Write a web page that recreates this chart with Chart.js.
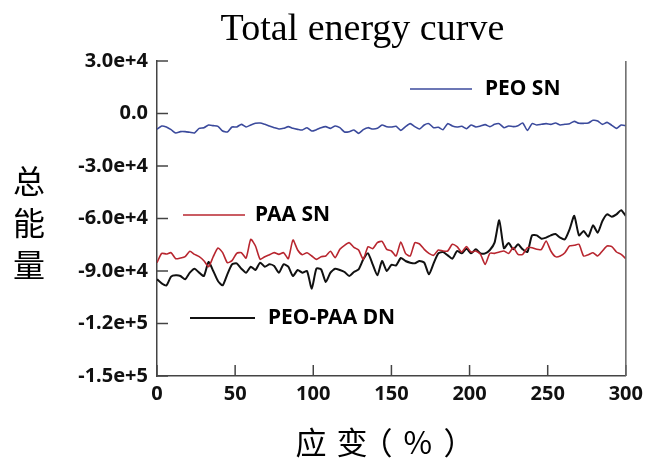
<!DOCTYPE html>
<html>
<head>
<meta charset="utf-8">
<script src="https://cdn.jsdelivr.net/npm/chart.js@4/dist/chart.umd.min.js"></script>
<style>
  html, body { margin: 0; padding: 0; background: #fff; }
  canvas { display: block; }
</style>
</head>
<body>
<canvas id="energyChart" width="649" height="458"></canvas>
<script>
// strain (%) sampled every 3 units
const strain = [];
for (let s = 0; s <= 300; s += 3) strain.push(s);

const peoSN = [
  -9050, -7140, -7710, -9240, -11140, -10380, -10380, -10760, -11140, -8480,
  -8100, -6570, -6950, -7330, -10000, -10570, -7710, -7710, -6190, -7710,
  -6570, -5620, -5430, -6190, -7140, -8100, -8860, -8480, -7520, -8480,
  -9050, -9430, -8100, -10000, -9240, -8100, -7520, -8480, -7140, -8100,
  -10570, -10380, -9430, -11330, -9240, -8100, -8860, -8480, -6570, -7520,
  -7710, -7330, -9620, -7520, -5810, -7520, -8860, -6570, -5810, -8100,
  -7910, -9240, -5810, -7140, -7710, -7330, -8670, -6570, -7710, -7140,
  -6380, -7520, -6190, -5810, -8100, -7140, -7520, -6950, -5430, -9620,
  -5810, -6570, -6190, -5810, -6190, -5430, -6570, -6190, -5810, -4480,
  -5620, -5620, -5430, -3910, -4290, -6190, -5050, -6760, -8480, -6570,
  -6950
];

const paaSN = [
  -85240, -79900, -80290, -79530, -82960, -82570, -81810, -78760, -80480, -81810,
  -84100, -87530, -81810, -76860, -79530, -85240, -84100, -79900, -79530, -82570,
  -71900, -75710, -83340, -81810, -80670,
  -79500, -80480, -79530, -82960, -72290, -78000, -80670, -79530, -81430, -83340,
  -81810, -81430, -78760, -82380, -77620, -75330, -73810, -76480, -78000, -83340,
  -76100, -77240, -73810, -73050, -77620,
  -78570, -81430, -73430, -79910, -81430, -73810, -74570, -77620, -79910, -81050,
  -78000, -78570, -78570, -74760, -76100, -79140, -76100, -79140, -78570, -80480,
  -86190, -79910, -79910, -79140, -78570,
  -80000, -76670, -80480, -80480, -76670, -76670, -77620, -77620, -72860, -78570,
  -81810, -81430, -79530, -75710, -75330, -74760, -81430, -80670, -79530, -81430,
  -78570, -75710, -76100, -79140, -80480, -82950
];

const peoPaaDN = [
  -94770, -97050, -98200, -93240, -92480, -92860, -94770, -90950, -88670, -90950,
  -92860, -84860, -90000, -95720, -98200, -91910, -86190, -85620, -88670, -90950,
  -87530, -89430, -85240, -87530, -86190,
  -87140, -90950, -86190, -87530, -92860, -89430, -90950, -90000, -100100, -88670,
  -89050, -96290, -90950, -88670, -89430, -90570, -92860, -90570, -89050, -83340,
  -79910, -86190, -92480, -84290, -90000,
  -86500, -86760, -82570, -84290, -85240, -85620, -84290, -85240, -91910, -85620,
  -79910, -79140, -81050, -82960, -78570, -79910, -77240, -79910, -77620, -79910,
  -79910, -78000, -73810, -61000, -77000,
  -74000, -77620, -74760, -77620, -79140, -69620, -69620, -71530, -70950, -69620,
  -68860, -70950, -71900, -66190, -58500, -69620, -67140, -70380, -63910, -68100,
  -61430, -57620, -58950, -57620, -55300, -58570
];

const yTickValues = [30000, 0, -30000, -60000, -90000, -120000, -150000];
const yTickLabels = ['3.0e+4', '0.0', '-3.0e+4', '-6.0e+4', '-9.0e+4', '-1.2e+5', '-1.5e+5'];
const xTickValues = [0, 50, 100, 150, 200, 250, 300];

const seriesNames = ['PEO SN', 'PAA SN', 'PEO-PAA DN'];
const seriesColors = ['#3b4a9c', '#b8262f', '#111111'];

function points(vals) {
  return strain.map((s, i) => ({ x: s, y: vals[i] }));
}

const tickFont = { family: 'Noto Sans', weight: 'bold', size: 20 };
const axisColor = '#444';

// draw a glyph with its ink centred on x
function centredChar(ctx, ch, x, y) {
  const m = ctx.measureText(ch);
  const inkW = m.actualBoundingBoxLeft + m.actualBoundingBoxRight;
  ctx.fillText(ch, x - inkW / 2 + m.actualBoundingBoxLeft, y);
}

// inward ticks, right border, titles and in-plot legend
const decorations = {
  id: 'decorations',
  afterDraw(chart) {
    const { ctx, chartArea: a, scales } = chart;
    ctx.save();
    ctx.strokeStyle = axisColor;
    ctx.lineWidth = 1.5;
    xTickValues.forEach(v => {
      const px = scales.x.getPixelForValue(v);
      ctx.beginPath();
      ctx.moveTo(px, a.bottom);
      ctx.lineTo(px, a.bottom - 11);
      ctx.stroke();
    });
    yTickValues.forEach(v => {
      const py = scales.y.getPixelForValue(v);
      ctx.beginPath();
      ctx.moveTo(a.left, py);
      ctx.lineTo(a.left + 11, py);
      ctx.stroke();
    });
    ctx.strokeStyle = '#666';
    ctx.beginPath();
    ctx.moveTo(a.right, a.top);
    ctx.lineTo(a.right, a.bottom);
    ctx.stroke();

    // title
    ctx.fillStyle = '#000';
    ctx.textAlign = 'left';
    ctx.textBaseline = 'alphabetic';
    ctx.font = '38px "Liberation Serif"';
    centredChar(ctx, 'Total energy curve', 362, 40);

    // axis titles
    ctx.textBaseline = 'middle';
    ctx.font = '32px "Noto Sans CJK SC"';
    ['总', '能', '量'].forEach((ch, i) => centredChar(ctx, ch, 29, 181 + i * 42));
    ctx.font = '31px "Noto Sans CJK SC"';
    const xTitle = ['应', '变', '（', '%', '）'];
    const xTitlePos = [311, 352, 387, 418, 449];
    xTitle.forEach((ch, i) => centredChar(ctx, ch, xTitlePos[i], 442));

    // legend entries drawn inside the plot
    const legend = [
      { x0: 410, x1: 472, y: 89, tx: 485 },
      { x0: 183, x1: 245, y: 215, tx: 255 },
      { x0: 190, x1: 255, y: 318, tx: 268 }
    ];
    ctx.font = 'bold 21px "Noto Sans"';
    ctx.textAlign = 'left';
    legend.forEach((l, i) => {
      ctx.strokeStyle = seriesColors[i];
      ctx.lineWidth = i === 2 ? 2 : 1.5;
      ctx.beginPath();
      ctx.moveTo(l.x0, l.y);
      ctx.lineTo(l.x1, l.y);
      ctx.stroke();
      ctx.fillStyle = '#000';
      ctx.fillText(seriesNames[i], l.tx, l.y);
    });
    ctx.restore();
  }
};

const ctx = document.getElementById('energyChart').getContext('2d');
new Chart(ctx, {
  type: 'line',
  data: {
    datasets: [
      { label: seriesNames[0], data: points(peoSN), borderColor: seriesColors[0], borderWidth: 1.6 },
      { label: seriesNames[1], data: points(paaSN), borderColor: seriesColors[1], borderWidth: 1.6 },
      { label: seriesNames[2], data: points(peoPaaDN), borderColor: seriesColors[2], borderWidth: 2 }
    ]
  },
  options: {
    responsive: false,
    animation: false,
    layout: { padding: { top: 61, right: 20, left: 0, bottom: 0 } },
    elements: { point: { radius: 0 }, line: { tension: 0.2 } },
    plugins: {
      legend: { display: false },
      title: { display: false },
      tooltip: { enabled: false }
    },
    scales: {
      x: {
        type: 'linear',
        min: 0,
        max: 300,
        afterBuildTicks: s => { s.ticks = xTickValues.map(v => ({ value: v })); },
        ticks: { font: tickFont, color: '#111', padding: 6, maxRotation: 0 },
        grid: { display: false, drawTicks: false },
        border: { color: axisColor, width: 1.5 },
        afterFit: s => { s.height = 82; }
      },
      y: {
        min: -150000,
        max: 30000,
        afterBuildTicks: s => { s.ticks = yTickValues.map(v => ({ value: v })); },
        ticks: {
          font: tickFont,
          color: '#111',
          padding: 9,
          callback: v => yTickLabels[yTickValues.indexOf(v)]
        },
        grid: { display: false, drawTicks: false },
        border: { color: axisColor, width: 1.5 },
        afterFit: s => { s.width = 157; }
      }
    }
  },
  plugins: [decorations]
});
</script>
</body>
</html>
